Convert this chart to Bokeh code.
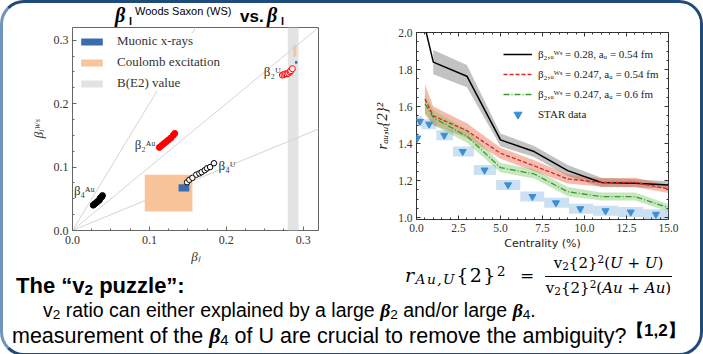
import numpy as np
from bokeh.plotting import figure
from bokeh.models import (Range1d, FixedTicker, PrintfTickFormatter, LinearAxis,
                          Legend, LegendItem, Label, Div)
from bokeh.layouts import row, column
from bokeh.embed import file_html
from bokeh.resources import INLINE

SERIF = "Liberation Serif"
SANS = "Liberation Sans"

# ---------------- left panel data: beta_l^WS vs beta_l ----------------
guide_slopes = [2.0, 1.0, 0.5]
b2U_x = [0.273, 0.275, 0.277, 0.279, 0.281, 0.283, 0.284, 0.286]
b2U_y = [0.245, 0.246, 0.247, 0.247, 0.248, 0.250, 0.252, 0.255]
b2Au_x = [0.113, 0.116, 0.119, 0.122, 0.125, 0.128, 0.131, 0.133]
b2Au_y = [0.131, 0.134, 0.137, 0.140, 0.143, 0.146, 0.150, 0.153]
b4Au_x = [0.027, 0.029, 0.031, 0.033, 0.035, 0.036, 0.038, 0.039]
b4Au_y = [0.040, 0.042, 0.044, 0.046, 0.048, 0.051, 0.053, 0.055]
b4U_x = [0.149, 0.152, 0.156, 0.161, 0.165, 0.168, 0.172, 0.175, 0.179, 0.184]
b4U_y = [0.076, 0.080, 0.083, 0.088, 0.090, 0.092, 0.095, 0.098, 0.100, 0.106]
muonic_left = [0.138, 0.2895]
muonic_right = [0.152, 0.2925]
muonic_bottom = [0.0615, 0.263]
muonic_top = [0.073, 0.267]
coulomb_left = [0.094, 0.287]
coulomb_right = [0.156, 0.291]
coulomb_bottom = [0.030, 0.274]
coulomb_top = [0.088, 0.292]
be2_left = [0.280]
be2_right = [0.294]
beta_ticks = [0.0, 0.1, 0.2, 0.3]
beta_range = (0.0, 0.32)

# ---------------- right panel data: r_{Au,U}{2}^2 vs centrality ----------------
centrality = [0.5, 1, 3, 5, 7, 9, 11, 13, 15]
r_b028_a054 = [2.03, 1.84, 1.764, 1.42, 1.357, 1.254, 1.19, 1.186, 1.177]
e_b028_a054 = [0.07, 0.065, 0.06, 0.035, 0.03, 0.03, 0.025, 0.022, 0.02]
r_b0247_a054 = [1.64, 1.55, 1.47, 1.348, 1.28, 1.209, 1.19, 1.19, 1.155]
e_b0247_a054 = [0.08, 0.05, 0.04, 0.03, 0.03, 0.025, 0.022, 0.025, 0.022]
r_b0247_a060 = [1.615, 1.54, 1.44, 1.27, 1.236, 1.14, 1.114, 1.114, 1.053]
e_b0247_a060 = [0.05, 0.04, 0.035, 0.025, 0.025, 0.025, 0.022, 0.022, 0.02]
star_x = [0.05, 0.2, 0.75, 1.65, 2.75, 4.05, 5.45, 6.9, 8.3, 9.75, 11.25, 12.75, 14.25]
star_y = [1.43, 1.52, 1.505, 1.445, 1.357, 1.257, 1.177, 1.114, 1.08, 1.048, 1.037, 1.03, 1.018]
star_sys_lo_x = [0.0, 0.0, 0.3, 1.18, 2.17, 3.41, 4.74, 6.18, 7.6, 9.08, 10.52, 12.0, 13.5]
star_sys_hi_x = [0.1, 0.35, 1.18, 2.17, 3.41, 4.74, 6.18, 7.6, 9.08, 10.52, 12.0, 13.5, 15.0]
star_sys_y = [0.027] * 13
cent_ticks = [0.0, 2.5, 5.0, 7.5, 10.0, 12.5, 15.0]
ratio_ticks = [1.0, 1.2, 1.4, 1.6, 1.8, 2.0]
legend_labels = ["β₂,ᵤᵂˢ = 0.28, aᵤ = 0.54 fm",
                 "β₂,ᵤᵂˢ = 0.247, aᵤ = 0.54 fm",
                 "β₂,ᵤᵂˢ = 0.247, aᵤ = 0.6 fm",
                 "STAR data"]


def style_axis(ax, ticks, minor, fmt, size, color, show_labels=True):
    ax.ticker = FixedTicker(ticks=ticks, minor_ticks=minor)
    ax.formatter = PrintfTickFormatter(format=fmt)
    ax.major_tick_in = 4
    ax.major_tick_out = 0
    ax.minor_tick_in = 2
    ax.minor_tick_out = 0
    ax.major_tick_line_color = color
    ax.minor_tick_line_color = color
    ax.axis_line_color = None
    ax.major_label_text_font = SERIF
    ax.major_label_text_font_size = size
    ax.major_label_text_color = "#333333" if show_labels else None
    ax.major_label_standoff = 4 if show_labels else 0


# =============== LEFT FIGURE ===============
L = figure(title=None, frame_width=246, frame_height=203, min_border_left=69, min_border_right=31,
           min_border_top=0, min_border_bottom=34,
           x_range=Range1d(*beta_range), y_range=Range1d(*beta_range),
           output_backend="svg", toolbar_location=None)
L.grid.visible = False
L.outline_line_color = "#666666"
L.border_fill_color = "white"

lx, ly = L.xaxis[0], L.yaxis[0]
style_axis(lx, beta_ticks, list(np.arange(0, 0.33, 0.025)), "%.1f", "12px", "#666666")
style_axis(ly, beta_ticks, list(np.arange(0, 0.33, 0.025)), "%.1f", "12px", "#666666")
lx.major_label_standoff = 5
lx.axis_label = "βₗ"
ly.axis_label = "βₗᵂˢ"
for ax in (lx, ly):
    ax.axis_label_text_font = SERIF
    ax.axis_label_text_font_style = "italic"
    ax.axis_label_text_font_size = "13px"
    ax.axis_label_text_color = "#333333"
lx.axis_label_standoff = 2
ly.axis_label_standoff = 5

be2 = L.quad(left=be2_left, right=be2_right, bottom=[beta_range[0]], top=[beta_range[1]],
             fill_color="#e3e3e3", line_color=None)
gx = [beta_range[1]] * len(guide_slopes)
L.segment(x0=[0] * len(guide_slopes), y0=[0] * len(guide_slopes), x1=gx,
          y1=[s * beta_range[1] for s in guide_slopes], line_color="#d4d4d4", line_width=1)
coul = L.quad(left=coulomb_left, right=coulomb_right, bottom=coulomb_bottom, top=coulomb_top,
              fill_color="#f9c49a", line_color=None)
muon = L.quad(left=muonic_left, right=muonic_right, bottom=muonic_bottom, top=muonic_top,
              fill_color="#3a6db0", line_color=None)
L.scatter(b4Au_x, b4Au_y, size=6, fill_color="black", line_color="black")
L.scatter(b2Au_x, b2Au_y, size=6, fill_color="red", line_color="red")
L.scatter(b4U_x, b4U_y, size=5.5, fill_color="white", line_color="black", line_width=1)
L.scatter(b2U_x, b2U_y, size=6, fill_color="white", line_color="red", line_width=1)

for txt, x, y, align in [("β₂ᵁ", 0.271, 0.250, "right"), ("β₂ᴬᵘ", 0.108, 0.136, "right"),
                         ("β₄ᴬᵘ", 0.029, 0.063, "right"), ("β₄ᵁ", 0.190, 0.103, "left")]:
    L.add_layout(Label(x=x, y=y, text=txt, text_align=align, text_baseline="middle",
                       text_font=SERIF, text_font_size="13px", text_color="#333333"))

legL = Legend(items=[LegendItem(label="Muonic x-rays", renderers=[muon]),
                     LegendItem(label="Coulomb excitation", renderers=[coul]),
                     LegendItem(label="B(E2) value", renderers=[be2])],
              location="top_left", margin=6, padding=5, spacing=5,
              glyph_width=27, glyph_height=9, label_height=14, label_standoff=12,
              label_text_font=SERIF, label_text_font_size="13px", label_text_color="#333333",
              border_line_color=None, background_fill_color="white", background_fill_alpha=1)
L.add_layout(legL)

ab = "position:absolute;white-space:nowrap;line-height:1;"
bsym = "font-family:'Liberation Serif',serif;font-weight:bold;font-style:italic;font-size:20px;"
lsub = "font-family:'Liberation Sans',sans-serif;font-weight:bold;font-size:11px;"
title_html = f"""
<div style="position:relative;width:346px;height:24px;color:#000;">
 <div style="{ab}left:112px;top:2px;{bsym}">β</div>
 <div style="{ab}left:126px;top:13px;{lsub}">l</div>
 <div style="{ab}left:132px;top:3px;font-family:'Liberation Sans',sans-serif;font-size:11px;">Woods Saxon (WS)</div>
 <div style="{ab}left:237px;top:5px;font-family:'Liberation Sans',sans-serif;font-weight:bold;font-size:17px;">vs.</div>
 <div style="{ab}left:264px;top:2px;{bsym}">β</div>
 <div style="{ab}left:278px;top:13px;{lsub}">l</div>
</div>
"""
title_div = Div(text=title_html, width=346, height=24, margin=0)

# =============== RIGHT FIGURE ===============
R = figure(title=None, frame_width=252, frame_height=187, min_border_left=67, min_border_right=32,
           min_border_top=29, min_border_bottom=45,
           x_range=Range1d(0, 15), y_range=Range1d(0.99, 2.0),
           output_backend="svg", toolbar_location=None)
R.grid.visible = False
R.outline_line_color = "#333333"
R.border_fill_color = "white"
rx, ry = R.xaxis[0], R.yaxis[0]
xminor = list(np.arange(0, 15.01, 0.5))
yminor = list(np.arange(1.0, 2.001, 0.05))
style_axis(rx, cent_ticks, xminor, "%.1f", "11.5px", "#333333")
style_axis(ry, ratio_ticks, yminor, "%.1f", "11.5px", "#333333")
top_ax = LinearAxis()
right_ax = LinearAxis()
style_axis(top_ax, cent_ticks, xminor, "%.1f", "11.5px", "#333333", show_labels=False)
style_axis(right_ax, ratio_ticks, yminor, "%.1f", "11.5px", "#333333", show_labels=False)
R.add_layout(top_ax, "above")
R.add_layout(right_ax, "right")
rx.axis_label = "Centrality (%)"
rx.axis_label_text_font = "DejaVu Sans"
rx.axis_label_text_font_style = "normal"
rx.axis_label_text_font_size = "11px"
rx.axis_label_text_color = "#222222"
rx.axis_label_standoff = 2
ry.axis_label = "rₐᵤ,ᵤ{2}²"
ry.axis_label_text_font = SERIF
ry.axis_label_text_font_style = "italic"
ry.axis_label_text_font_size = "15px"
ry.axis_label_text_color = "#222222"
ry.axis_label_standoff = 5

R.quad(left=star_sys_lo_x, right=star_sys_hi_x,
       bottom=[y - e for y, e in zip(star_y, star_sys_y)],
       top=[y + e for y, e in zip(star_y, star_sys_y)],
       fill_color="#a9cbea", fill_alpha=0.6, line_color=None)

R.varea(x=centrality[1:], y1=[r - e for r, e in zip(r_b028_a054[1:], e_b028_a054[1:])],
        y2=[r + e for r, e in zip(r_b028_a054[1:], e_b028_a054[1:])],
        fill_color="#666666", fill_alpha=0.4)
R.varea(x=centrality, y1=[r - e for r, e in zip(r_b0247_a054, e_b0247_a054)],
        y2=[r + e for r, e in zip(r_b0247_a054, e_b0247_a054)],
        fill_color="#e8603c", fill_alpha=0.42)
R.varea(x=centrality, y1=[r - e for r, e in zip(r_b0247_a060, e_b0247_a060)],
        y2=[r + e for r, e in zip(r_b0247_a060, e_b0247_a060)],
        fill_color="#6cbf5c", fill_alpha=0.38)
l1 = R.line(centrality, r_b028_a054, line_color="black", line_width=1.5)
l2 = R.line(centrality, r_b0247_a054, line_color="#d62728", line_width=1.3, line_dash="4 2")
l3 = R.line(centrality, r_b0247_a060, line_color="#3a9a2a", line_width=1.3, line_dash="6 2 1 2")
st = R.scatter(star_x, star_y, marker="inverted_triangle", size=7,
               fill_color="#3b8fd4", line_color="#3b8fd4")

legR = Legend(items=[LegendItem(label=legend_labels[0], renderers=[l1]),
                     LegendItem(label=legend_labels[1], renderers=[l2]),
                     LegendItem(label=legend_labels[2], renderers=[l3]),
                     LegendItem(label=legend_labels[3], renderers=[st])],
              location=(87, 95), margin=0, padding=5, spacing=0,
              glyph_width=29, glyph_height=20, label_height=20, label_standoff=6,
              label_text_font=SERIF, label_text_font_size="11px", label_text_color="#222222",
              border_line_color=None, background_fill_alpha=0)
R.add_layout(legR)

# =============== TEXT BELOW ===============
sub = "font-size:0.7em;vertical-align:-0.15em;line-height:0;"
sup = "font-size:0.7em;vertical-align:0.45em;line-height:0;"
bb = "<b><i style='font-family:\"Liberation Serif\",serif;'>β</i></b>"
fm = "font-family:'DejaVu Serif',serif;white-space:nowrap;position:absolute;"
html = f"""
<div style="position:relative;width:697px;height:101px;font-family:'Liberation Sans',Arial,sans-serif;color:#000;line-height:1;">
 <div style="{fm}left:402px;top:14px;font-size:19px;letter-spacing:1.5px;">
   <i>r</i><span style="{sub}font-size:0.72em;"><i>Au,U</i></span>{{2}}<span style="{sup}">2</span></div>
 <div style="{fm}left:517px;top:15px;font-size:17px;">=</div>
 <div style="{fm}left:542px;top:4px;width:127px;text-align:center;font-size:15px;">
   v<span style="{sub}">2</span>{{2}}<span style="{sup}">2</span>(<i>U</i> + <i>U</i>)</div>
 <div style="position:absolute;left:542px;top:24px;width:127px;height:0;border-top:1px solid #000;"></div>
 <div style="{fm}left:542px;top:29px;width:127px;text-align:center;font-size:15px;">
   v<span style="{sub}">2</span>{{2}}<span style="{sup}">2</span>(<i>Au</i> + <i>Au</i>)</div>
 <div style="position:absolute;left:13px;top:23px;font-weight:bold;font-size:22px;white-space:nowrap;">
   The “v<span style="{sub}">2</span> puzzle”:</div>
 <div style="position:absolute;left:40px;top:49px;font-size:19.5px;white-space:nowrap;">
   v<span style="{sub}">2</span> ratio can either explained by a large {bb}<span style="{sub}">2</span> and/or large {bb}<span style="{sub}">4</span>.</div>
 <div style="position:absolute;left:9px;top:74px;font-size:21.5px;white-space:nowrap;">
   measurement of the {bb}<span style="{sub}">4</span> of U are crucial to remove the ambiguity?</div>
 <div style="position:absolute;left:624px;top:70px;font-size:17px;font-weight:bold;white-space:nowrap;">【1,2】</div>
</div>
"""
txt = Div(text=html, width=697, height=101, margin=(-14, 0, 0, 0))

left_col = column(title_div, L, spacing=0)
layout = column(row(left_col, R, spacing=0), txt, spacing=0,
                styles={"border": "3px solid #1f4a7c", "border-left-color": "#6f95bf",
                        "border-radius": "24px", "overflow": "hidden", "background": "white"})

open("out.html", "w").write(file_html(layout, INLINE))
